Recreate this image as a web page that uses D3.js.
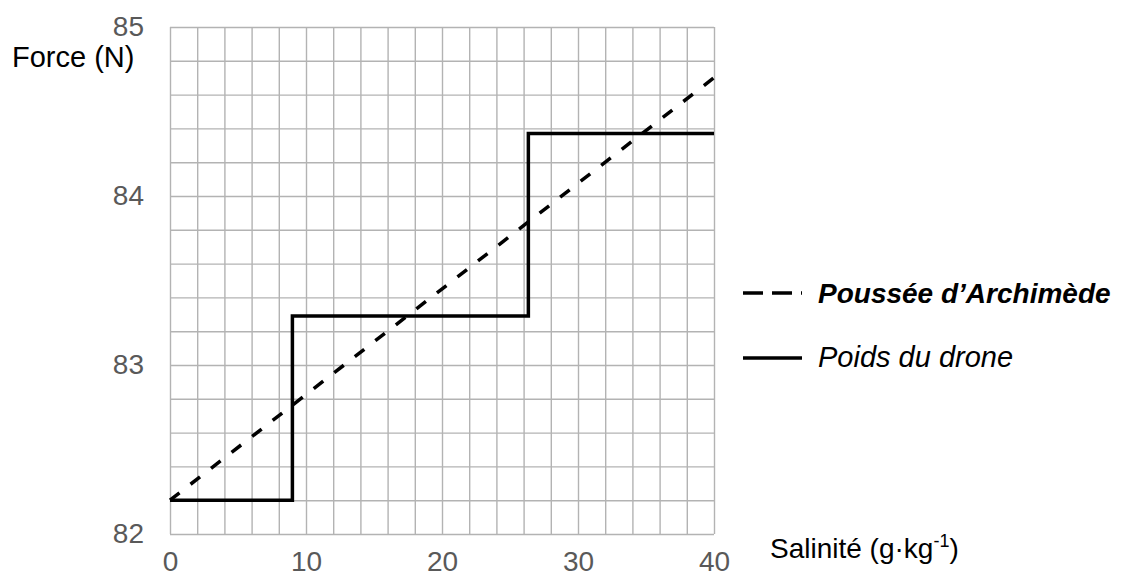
<!DOCTYPE html>
<html>
<head>
<meta charset="utf-8">
<script src="https://cdn.jsdelivr.net/npm/d3@7"></script>
<style>
  body { margin: 0; background: #fff; }
  text { font-family: Arial, "Liberation Sans", sans-serif; }
</style>
</head>
<body>
<div id="chart"></div>
<script>
// Salinity (g/kg) and forces (N)
const salinite = [0, 40];
const poussee = [82.2, 84.7];
const poidsX = [0, 9, 26.35, 40];
const poidsY = [82.2, 83.29, 84.37, 84.37];
const xTicks = [0, 10, 20, 30, 40];
const yTicks = [82, 83, 84, 85];
const xGrid = d3.range(0, 40.001, 2);
const yGrid = d3.range(82, 85.001, 0.2);

const W = 1128, H = 580;
const margin = { top: 27, left: 170 },
    width = 544,
    height = 507;

const svg = d3.select("#chart")
    .append("svg")
    .attr("width", W)
    .attr("height", H);

const g = svg.append("g")
    .attr("transform", "translate(" + margin.left + "," + margin.top + ")");

const x = d3.scaleLinear().domain([0, 40]).range([0, width]);
const y = d3.scaleLinear().domain([82, 85]).range([height, 0]);

// grid
g.append("g")
    .attr("class", "grid")
    .attr("transform", "translate(0," + height + ")")
    .call(d3.axisBottom(x).tickValues(xGrid).tickSize(-height).tickFormat(""));
g.append("g")
    .attr("class", "grid")
    .call(d3.axisLeft(y).tickValues(yGrid).tickSize(-width).tickFormat(""));
g.selectAll(".grid .domain").remove();
g.selectAll(".grid line")
    .attr("stroke", "#b3b3b3")
    .attr("stroke-width", 1.4);

// tick labels
const xa = g.append("g")
    .attr("transform", "translate(0," + height + ")")
    .call(d3.axisBottom(x).tickValues(xTicks).tickSize(0).tickPadding(17).tickFormat(d3.format("d")));
const ya = g.append("g")
    .call(d3.axisLeft(y).tickValues(yTicks).tickSize(0).tickPadding(26).tickFormat(d3.format("d")));
[xa, ya].forEach(function(a) {
    a.select(".domain").remove();
    a.selectAll("text")
        .attr("fill", "#595959")
        .style("font-size", "28px");
});

// Poussée d'Archimède (dashed)
const pData = salinite.map(function(s, i) { return [s, poussee[i]]; });
g.append("path")
    .datum(pData)
    .attr("fill", "none")
    .attr("stroke", "#000")
    .attr("stroke-width", 3.5)
    .attr("stroke-dasharray", "12,14")
    .attr("d", d3.line()
        .x(function(d) { return x(d[0]); })
        .y(function(d) { return y(d[1]); }));

// Poids du drone (steps)
const wData = poidsX.map(function(s, i) { return [s, poidsY[i]]; });
g.append("path")
    .datum(wData)
    .attr("fill", "none")
    .attr("stroke", "#000")
    .attr("stroke-width", 3.5)
    .attr("d", d3.line()
        .curve(d3.curveStepAfter)
        .x(function(d) { return x(d[0]); })
        .y(function(d) { return y(d[1]); }));

// axis titles
svg.append("text")
    .attr("x", 12).attr("y", 67)
    .style("font-size", "29px")
    .attr("fill", "#000")
    .text("Force (N)");

const st = svg.append("text")
    .attr("x", 770).attr("y", 558)
    .style("font-size", "28px")
    .attr("fill", "#000");
st.append("tspan").text("Salinité (g·kg");
st.append("tspan").attr("dy", -11).style("font-size", "18px").text("-1");
st.append("tspan").attr("dy", 11).text(")");

// legend
const legend = svg.append("g");
legend.append("line")
    .attr("x1", 743).attr("x2", 802)
    .attr("y1", 293).attr("y2", 293)
    .attr("stroke", "#000").attr("stroke-width", 3.5)
    .attr("stroke-dasharray", "20,9");
legend.append("text")
    .attr("x", 818).attr("y", 303)
    .style("font-size", "28px")
    .style("font-weight", "bold")
    .style("font-style", "italic")
    .text("Poussée d’Archimède");
legend.append("line")
    .attr("x1", 743).attr("x2", 802)
    .attr("y1", 358).attr("y2", 358)
    .attr("stroke", "#000").attr("stroke-width", 3.5);
legend.append("text")
    .attr("x", 818).attr("y", 367)
    .style("font-size", "29px")
    .style("font-style", "italic")
    .text("Poids du drone");
</script>
</body>
</html>
